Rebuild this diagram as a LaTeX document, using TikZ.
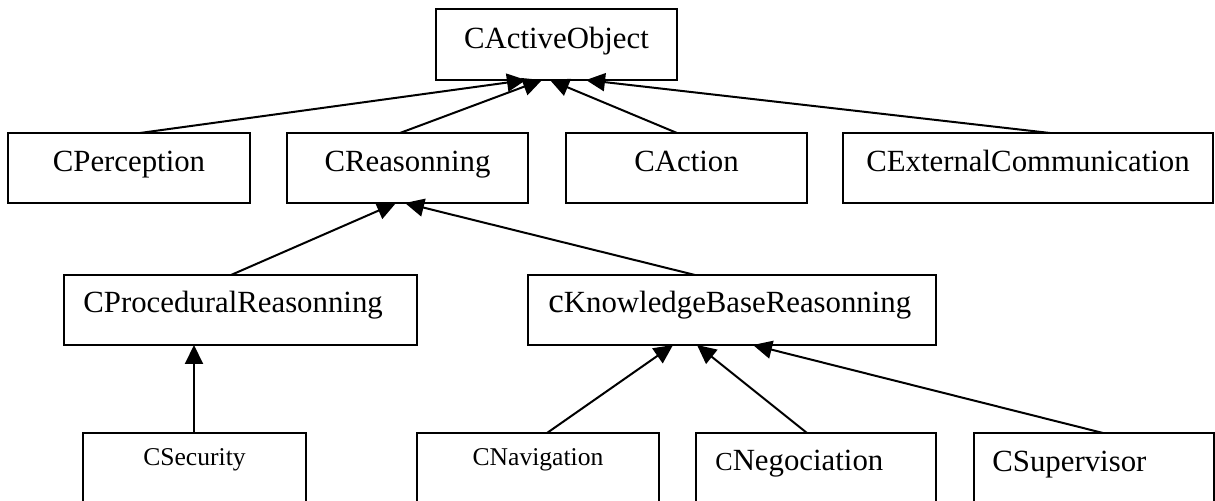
\documentclass[tikz,border=0pt]{standalone}
\usepackage{fontspec}
\setmainfont{Liberation Serif}
\usetikzlibrary{arrows.meta,calc}
\begin{document}
\begin{tikzpicture}[x=0.5pt,y=-0.5pt,
  cls/.style={draw, line width=1pt, rectangle, inner sep=0pt, outer sep=0pt, anchor=north west, minimum height=35pt},
  lbl/.style={inner sep=0pt, font=\fontsize{15.4}{18}\selectfont},
  slbl/.style={inner sep=0pt, font=\fontsize{12.8}{15}\selectfont},
  arr/.style={line width=1pt, -{Triangle[length=9.5pt,width=9pt]}}]
\path[use as bounding box, clip] (0,0) rectangle (1215,501);
\fill[white] (0,0) rectangle (1215,501);
% boxes
\node[cls, minimum width=120.5pt, minimum height=35.5pt] (act) at (436,9) {};
\node[cls, minimum width=121pt] (perc) at (8,133) {};
\node[cls, minimum width=120.5pt] (reas) at (287,133) {};
\node[cls, minimum width=120.5pt] (actn) at (566,133) {};
\node[cls, minimum width=185pt] (ext) at (843,133) {};
\node[cls, minimum width=176.5pt] (proc) at (64,275) {};
\node[cls, minimum width=204pt] (kb) at (528,275) {};
\node[cls, minimum width=111.5pt] (sec) at (83,433) {};
\node[cls, minimum width=121pt] (nav) at (417,433) {};
\node[cls, minimum width=120pt] (neg) at (696,433) {};
\node[cls, minimum width=120pt] (sup) at (974,433) {};
% labels
\node[lbl, anchor=base] (t-act) at ($(act.north)+(0,40)$) {CActiveObject};
\node[lbl, anchor=base] (t-perc) at ($(perc.north)+(0,39)$) {CPerception};
\node[lbl, anchor=base] (t-reas) at ($(reas.north)+(0,39)$) {CReasonning};
\node[lbl, anchor=base] (t-actn) at ($(actn.north)+(0,39)$) {CAction};
\node[lbl, anchor=base] (t-ext) at ($(ext.north)+(0,39)$) {CExternalCommunication};
\node[lbl, anchor=base west] (t-proc) at ($(proc.north west)+(19,38)$) {CProceduralReasonning};
\node[lbl, anchor=base west] (t-kb) at ($(kb.north west)+(20,38)$) {{\fontsize{17.5}{18}\selectfont c}KnowledgeBaseReasonning};
\node[slbl, anchor=base] (t-sec) at ($(sec.north)+(0,33)$) {CSecurity};
\node[slbl, anchor=base] (t-nav) at ($(nav.north)+(0,33)$) {CNavigation};
\node[lbl, anchor=base west] (t-neg) at ($(neg.north west)+(19,38)$) {{\fontsize{13}{18}\selectfont C}Negociation};
\node[lbl, anchor=base west] (t-sup) at ($(sup.north west)+(18,39)$) {CSupervisor};
% connectors
\draw[arr] ($(perc.north west)+(132,0)$) -- ($(act.south west)+(90,0)$);
\draw[arr] ($(reas.north west)+(113,0)$) -- ($(act.south west)+(106,0)$);
\draw[arr] ($(actn.north west)+(111,0)$) -- ($(act.south west)+(114,0)$);
\draw[arr] ($(ext.north west)+(207,0)$) -- ($(act.south west)+(150,0)$);
\draw[arr] ($(proc.north west)+(167,0)$) -- ($(reas.south west)+(109,0)$);
\draw[arr] ($(kb.north west)+(167,0)$) -- ($(reas.south west)+(118,0)$);
\draw[arr] ($(sec.north west)+(111,0)$) -- ($(proc.south west)+(130,0)$);
\draw[arr] ($(nav.north west)+(130,0)$) -- ($(kb.south west)+(145,0)$);
\draw[arr] ($(neg.north west)+(111,0)$) -- ($(kb.south west)+(169,0)$);
\draw[arr] ($(sup.north west)+(129,0)$) -- ($(kb.south west)+(225,0)$);
\end{tikzpicture}
\end{document}
